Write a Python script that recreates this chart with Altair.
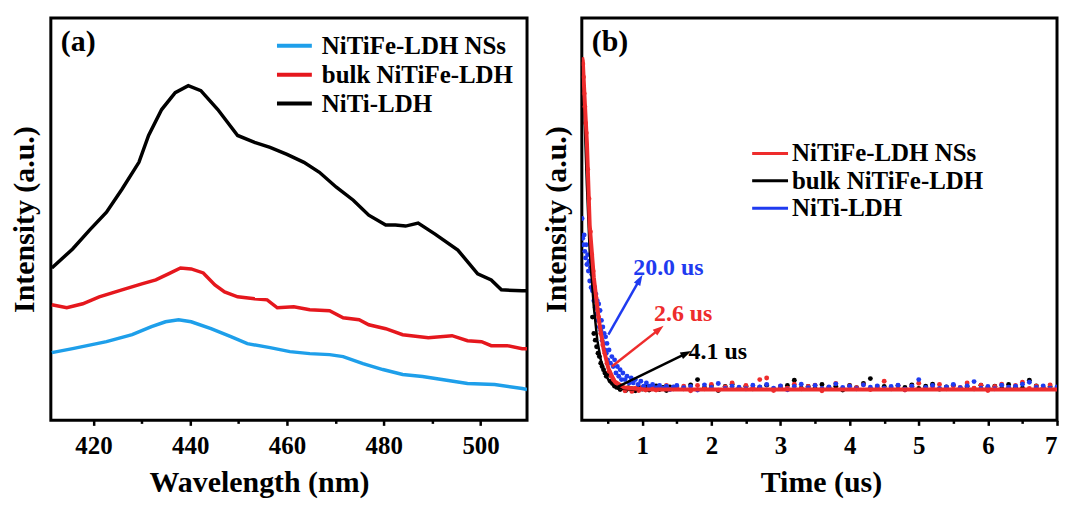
import math
import altair as alt
import pandas as pd

FONT = "Liberation Serif"
SERIES = ["NiTiFe-LDH NSs", "bulk NiTiFe-LDH", "NiTi-LDH"]

# ---------------- Panel (a): PL spectra ----------------
wl_nss = [411.4, 415.7, 422.7, 428.0, 432.0, 434.9, 437.6, 440.2, 444.3, 448.4, 451.8, 456.5, 460.6,
          464.7, 468.8, 471.6, 475.7, 479.8, 483.9, 488.0, 492.0, 497.3, 502.9, 508.6, 509.6]
pl_nss = [68, 72, 79, 86, 94, 99, 101, 99, 92, 84, 77, 73, 69, 67, 66, 64, 57, 51, 46, 44, 41, 37, 36, 32, 31]

wl_bulk = [411.4, 414.5, 417.8, 421.2, 425.9, 430.0, 432.9, 435.5, 438.0, 440.2, 442.7, 445.1, 447.1,
           449.8, 453.3, 455.9, 458.0, 461.4, 464.7, 468.8, 471.6, 474.9, 476.9, 480.4, 483.9, 489.2,
           494.1, 497.3, 500.2, 502.2, 505.5, 508.6, 509.6]
pl_bulk = [116, 113, 117, 124, 131, 137, 141, 147, 153, 152, 148, 136, 129, 124, 122, 121, 113, 114,
           111, 110, 103, 101, 96, 92, 86, 83, 85, 80, 79, 75, 75, 72, 72]

wl_niti = [411.4, 415.7, 419.2, 422.7, 425.9, 429.4, 431.4, 434.1, 436.9, 439.6, 442.2, 445.7, 449.8,
           453.3, 456.5, 460.0, 463.5, 466.7, 470.2, 473.7, 476.9, 480.4, 482.4, 484.5, 487.1, 490.6,
           495.3, 499.4, 502.2, 504.3, 508.6, 509.6]
pl_niti = [153, 172, 191, 209, 232, 259, 286, 312, 329, 336, 331, 312, 286, 279, 274, 267, 259, 249,
           234, 221, 206, 196, 196, 195, 198, 187, 171, 147, 141, 131, 130, 130]

wl_ticks = [420, 430, 440, 450, 460, 470, 480, 490, 500]

# ---------------- Panel (b): TRPL decay ----------------
t_fit_red = [0.13, 0.14, 0.17, 0.20, 0.24, 0.30, 0.37, 0.44, 0.51, 0.60, 0.74, 1.03, 7.0]
i_fit_red = [1.01, 1.00, 0.87, 0.75, 0.50, 0.34, 0.215, 0.124, 0.064, 0.024, 0.006, 0.0, 0.0]
t_fit_blk = [0.14, 0.17, 0.20, 0.24, 0.30, 0.35, 0.40, 0.45, 0.52, 0.60, 0.70, 0.85, 7.0]
i_fit_blk = [0.98, 0.80, 0.62, 0.42, 0.25, 0.15, 0.09, 0.055, 0.025, 0.01, 0.003, 0.0, 0.0]

t_pts_red = [0.14, 0.15, 0.16, 0.17, 0.18, 0.19, 0.21, 0.23, 0.25, 0.27, 0.29, 0.31, 0.33, 0.35, 0.37,
             0.40, 0.43, 0.46, 0.49, 0.52, 0.55, 0.58, 0.62, 0.66, 0.70, 0.75, 0.80, 0.85, 0.90, 0.95,
             1.00, 1.05, 1.10, 1.15, 1.20, 1.25, 1.30, 1.35, 1.40, 1.45]
i_pts_red = [0.99, 0.95, 0.90, 0.86, 0.81, 0.78, 0.67, 0.58, 0.48, 0.41, 0.36, 0.31, 0.28, 0.245, 0.22,
             0.17, 0.135, 0.11, 0.08, 0.055, 0.04, 0.03, 0.02, 0.012, 0.006, -0.004, 0.002, -0.006,
             0.004, -0.003, 0.006, -0.002, 0.005, 0.010, -0.002, 0.008, 0.003, 0.012, 0.001, 0.007]

t_pts_blk = [0.28, 0.30, 0.32, 0.34, 0.36, 0.38, 0.40, 0.42, 0.44, 0.46, 0.48, 0.51, 0.54, 0.57, 0.60,
             0.64, 0.68, 0.72, 0.76, 0.80, 0.85, 0.90, 0.95, 1.00, 1.05, 1.10, 1.15, 1.20, 1.25, 1.30,
             1.35, 1.40, 1.45]
i_pts_blk = [0.22, 0.17, 0.15, 0.13, 0.11, 0.10, 0.08, 0.07, 0.06, 0.05, 0.04, 0.045, 0.025, 0.018, 0.01,
             0.006, 0.0, 0.004, -0.003, 0.005, 0.002, -0.004, 0.006, 0.001, 0.009, -0.002, 0.004, 0.011,
             0.000, 0.006, -0.003, 0.008, 0.002]

t_pts_blu = [0.13, 0.14, 0.15, 0.16, 0.17, 0.18, 0.19, 0.20, 0.21, 0.22, 0.23, 0.24, 0.25, 0.26, 0.27,
             0.28, 0.29, 0.30, 0.31, 0.32, 0.33, 0.34, 0.35, 0.36, 0.37, 0.38, 0.39, 0.40, 0.41, 0.42,
             0.43, 0.44, 0.45, 0.46, 0.47, 0.48, 0.49, 0.50, 0.52, 0.54, 0.56, 0.58, 0.60, 0.62, 0.64,
             0.66, 0.68, 0.70, 0.72, 0.75, 0.78, 0.81, 0.84, 0.87, 0.90, 0.94, 0.98, 1.02, 1.06, 1.10,
             1.15, 1.20, 1.25, 1.30, 1.35, 1.40, 1.45]
i_pts_blu = [0.52, 0.46, 0.44, 0.47, 0.42, 0.40, 0.44, 0.38, 0.41, 0.36, 0.39, 0.33, 0.37, 0.31, 0.35,
             0.30, 0.33, 0.27, 0.31, 0.25, 0.29, 0.23, 0.27, 0.21, 0.26, 0.19, 0.24, 0.18, 0.21, 0.15,
             0.19, 0.14, 0.17, 0.12, 0.16, 0.11, 0.14, 0.09, 0.12, 0.08, 0.10, 0.07, 0.09, 0.05, 0.07,
             0.04, 0.06, 0.03, 0.05, 0.03, 0.04, 0.02, 0.035, 0.02, 0.03, 0.015, 0.025, 0.01, 0.02, 0.01,
             0.015, 0.005, 0.012, 0.003, 0.01, 0.0, 0.008]

t_base = [1.5, 1.6, 1.7, 1.8, 1.9, 2.0, 2.1, 2.2, 2.3, 2.4, 2.5, 2.6, 2.7, 2.8, 2.9, 3.0, 3.1, 3.2, 3.3,
          3.4, 3.5, 3.6, 3.7, 3.8, 3.9, 4.0, 4.1, 4.2, 4.3, 4.4, 4.5, 4.6, 4.7, 4.8, 4.9, 5.0, 5.1, 5.2,
          5.3, 5.4, 5.5, 5.6, 5.7, 5.8, 5.9, 6.0, 6.1, 6.2, 6.3, 6.4, 6.5, 6.6, 6.7, 6.8, 6.9, 7.0]
i_base_red = [0.004, 0.010, -0.004, 0.012, 0.002, 0.015, -0.002, 0.008, 0.020, 0.003,
              0.012, 0.006, 0.030, 0.035, -0.003, 0.010, 0.004, 0.016, 0.002, 0.009,
              0.013, -0.004, 0.006, 0.018, 0.003, 0.011, 0.005, 0.014, 0.000, 0.009,
              0.025, 0.004, 0.012, -0.002, 0.010, 0.019, 0.003, 0.008, 0.015, 0.002,
              0.011, 0.006, 0.020, 0.004, 0.013, -0.003, 0.009, 0.016, 0.005, 0.012,
              0.022, 0.003, 0.010, 0.006, 0.014, 0.004]
i_base_blk = [0.008, 0.002, 0.014, 0.030, 0.005, 0.011, -0.003, 0.009, 0.016, 0.004,
              0.010, 0.002, 0.007, 0.013, 0.001, 0.008, 0.012, 0.028, 0.004, 0.009,
              0.003, 0.015, 0.006, 0.010, -0.002, 0.012, 0.005, 0.018, 0.033, 0.004,
              0.009, 0.002, 0.011, 0.006, 0.014, 0.003, 0.010, 0.016, 0.001, 0.008,
              0.012, 0.004, 0.009, 0.002, 0.013, 0.006, 0.010, 0.003, 0.015, 0.007,
              0.004, 0.028, 0.011, 0.005, 0.009, 0.002]
i_base_blu = [0.012, 0.005, 0.009, -0.002, 0.014, 0.006, 0.018, 0.003, 0.010, 0.007,
              0.002, 0.013, 0.008, 0.015, 0.004, 0.011, -0.001, 0.009, 0.016, 0.005,
              0.012, 0.003, 0.008, 0.017, 0.006, 0.010, 0.002, 0.014, 0.007, 0.011,
              0.004, 0.009, 0.013, 0.001, 0.010, 0.030, 0.006, 0.012, 0.003, 0.008,
              0.015, 0.005, 0.011, 0.024, 0.004, 0.009, 0.002, 0.013, 0.007, 0.010,
              0.016, 0.022, 0.006, 0.011, 0.004, 0.008]

t_ticks = [0.5, 1.0, 1.5, 2.0, 2.5, 3.0, 3.5, 4.0, 4.5, 5.0, 5.5, 6.0, 6.5, 7.0]

# lifetime annotations (series, label, arrow tail, arrow head, label anchor)
ann_series = ["NiTi-LDH", "NiTiFe-LDH NSs", "bulk NiTiFe-LDH"]
ann_text = ["20.0 us", "2.6 us", "4.1 us"]
arrow_t0 = [0.51, 0.56, 0.60]
arrow_i0 = [0.167, 0.070, 0.003]
arrow_t1 = [0.96, 1.24, 1.63]
arrow_i1 = [0.333, 0.182, 0.109]
text_t = [0.87, 1.17, 1.67]
text_i = [0.37, 0.23, 0.115]

# ---------------- layout / style ----------------
W_A, W_B, H = 478, 477, 404
XA_DOM = [411.2, 509.6]
YA_DOM = [0, 404]
XB_DOM = [0.126, 7.0]
YB_DOM = [-0.094, 1.130]

COL_A = alt.Scale(domain=SERIES, range=["#1E9FEA", "#E5171D", "#000000"])
COL_B = alt.Scale(domain=SERIES, range=["#EE2C2C", "#000000", "#1F3BF0"])


def x_axis(values, major, title, title_x, flush):
    return alt.Axis(
        values=values,
        labelExpr=f"abs(datum.value - round(datum.value / {major}) * {major}) < 1e-6 ? format(datum.value, 'd') : ''",
        tickSize={"condition": {"test": f"abs(datum.value - round(datum.value / {major}) * {major}) > 1e-6",
                                "value": 3}, "value": 5},
        tickWidth=2.5, tickColor="black",
        labelFont=FONT, labelFontSize=25, labelFontWeight="bold", labelColor="black",
        labelPadding=8, labelOverlap=False, labelFlush=flush,
        domain=False, grid=False,
        title=title, titleFont=FONT, titleFontSize=30, titleFontWeight="bold", titleColor="black",
        titleX=title_x, titleY=71, titleAlign="center", titleBaseline="alphabetic", titleAnchor="start",
    )


def y_axis(title_x):
    return alt.Axis(
        labels=False, ticks=False, domain=False, grid=False,
        title="Intensity (a.u.)", titleFont=FONT, titleFontSize=30, titleFontWeight="bold",
        titleColor="black", titleX=title_x, titleY=H / 2, titleAngle=270,
        titleAlign="center", titleBaseline="middle",
    )


def legend(scale, x0, x1, xt, y0, dy, sw):
    df = pd.DataFrame({"series": SERIES, "ly": [y0 + i * dy for i in range(len(SERIES))]})
    rules = alt.Chart(df).mark_rule(strokeWidth=sw).encode(
        x=alt.value(x0), x2=alt.value(x1),
        y=alt.Y("ly:Q", scale=None, axis=None),
        color=alt.Color("series:N", scale=scale, legend=None),
    )
    texts = alt.Chart(df).mark_text(
        align="left", baseline="middle", font=FONT, fontSize=25, fontWeight="bold", color="black"
    ).encode(x=alt.value(xt), y=alt.Y("ly:Q", scale=None, axis=None), text="series:N")
    return [rules, texts]


def panel_label(txt):
    return alt.Chart(pd.DataFrame({"t": [txt]})).mark_text(
        align="left", baseline="middle", font=FONT, fontSize=30, fontWeight="bold", color="black"
    ).encode(x=alt.value(10), y=alt.value(24), text="t:N")


# ---- panel a
df_a = pd.concat([
    pd.DataFrame({"wl": wl_nss, "I": pl_nss, "series": SERIES[0]}),
    pd.DataFrame({"wl": wl_bulk, "I": pl_bulk, "series": SERIES[1]}),
    pd.DataFrame({"wl": wl_niti, "I": pl_niti, "series": SERIES[2]}),
])
lines_a = alt.Chart(df_a).mark_line(strokeWidth=3.5, clip=True).encode(
    x=alt.X("wl:Q", scale=alt.Scale(domain=XA_DOM, nice=False, zero=False),
            axis=x_axis(wl_ticks, 20, "Wavelength (nm)", 209, False)),
    y=alt.Y("I:Q", scale=alt.Scale(domain=YA_DOM, nice=False), axis=y_axis(-26)),
    color=alt.Color("series:N", scale=COL_A, legend=None),
)
panel_a = alt.layer(lines_a, *legend(COL_A, 227, 262, 272, 28, 29, 4), panel_label("(a)")).properties(
    width=W_A, height=H)

# ---- panel b
df_pts = pd.concat([
    pd.DataFrame({"t": t_pts_blk, "I": i_pts_blk, "series": SERIES[1]}),
    pd.DataFrame({"t": t_base, "I": i_base_blk, "series": SERIES[1]}),
    pd.DataFrame({"t": t_pts_red, "I": i_pts_red, "series": SERIES[0]}),
    pd.DataFrame({"t": t_base, "I": i_base_red, "series": SERIES[0]}),
    pd.DataFrame({"t": t_pts_blu, "I": i_pts_blu, "series": SERIES[2]}),
    pd.DataFrame({"t": t_base, "I": i_base_blu, "series": SERIES[2]}),
])
df_fit = pd.concat([
    pd.DataFrame({"t": t_fit_blk, "I": i_fit_blk, "series": SERIES[1], "o": 0}),
    pd.DataFrame({"t": t_fit_red, "I": i_fit_red, "series": SERIES[0], "o": 1}),
])
XB_SCALE = alt.Scale(domain=XB_DOM, nice=False, zero=False)
YB_SCALE = alt.Scale(domain=YB_DOM, nice=False, zero=False)
XB_AXIS = x_axis(t_ticks, 1, "Time (us)", 240, True)
YB_AXIS = y_axis(-25)


def xb(field):
    return alt.X(field, type="quantitative", scale=XB_SCALE, axis=XB_AXIS)


def yb(field):
    return alt.Y(field, type="quantitative", scale=YB_SCALE, axis=YB_AXIS)


cb = alt.Color("series:N", scale=COL_B, legend=None)

pts_b = alt.Chart(df_pts).mark_circle(size=24, opacity=1, clip=True).encode(
    x=xb("t"), y=yb("I"), color=cb)
fit_blk = alt.Chart(df_fit[df_fit.o == 0]).mark_line(strokeWidth=2.5, clip=True).encode(
    x=xb("t"), y=yb("I"), color=cb)
fit_red = alt.Chart(df_fit[df_fit.o == 1]).mark_line(strokeWidth=4, clip=True).encode(
    x=xb("t"), y=yb("I"), color=cb)

# annotation arrows
px_x = W_B / (XB_DOM[1] - XB_DOM[0])
px_y = H / (YB_DOM[1] - YB_DOM[0])
angles = [math.degrees(math.atan2((a1 - a0) * px_x, (b1 - b0) * px_y)) % 360
          for a0, b0, a1, b1 in zip(arrow_t0, arrow_i0, arrow_t1, arrow_i1)]
df_ann = pd.DataFrame({
    "series": ann_series, "label": ann_text,
    "t0": arrow_t0, "i0": arrow_i0, "t1": arrow_t1, "i1": arrow_i1,
    "tt": text_t, "ti": text_i, "ang": angles,
})
arrows = alt.Chart(df_ann).mark_rule(strokeWidth=2.5).encode(
    x=xb("t0"), x2="t1:Q", y=yb("i0"), y2="i1:Q", color=cb,
)
heads = alt.Chart(df_ann).mark_point(
    shape="M0,-1L0.6,0.8L-0.6,0.8Z", filled=True, size=150, opacity=1
).encode(
    x=xb("t1"), y=yb("i1"), color=cb, angle=alt.Angle("ang:Q", scale=None),
)
ann_txt = alt.Chart(df_ann).mark_text(
    align="left", baseline="middle", font=FONT, fontSize=24, fontWeight="bold"
).encode(x=xb("tt"), y=yb("ti"), text="label:N", color=cb)

panel_b = alt.layer(
    pts_b, fit_blk, fit_red, arrows, heads, ann_txt,
    *legend(COL_B, 171, 207, 211, 136, 27.5, 3), panel_label("(b)")
).properties(width=W_B, height=H)

chart = alt.hconcat(panel_a, panel_b, spacing=11).resolve_scale(
    color="independent", x="independent", y="independent"
).properties(
    padding={"left": 0, "top": 7, "right": 0, "bottom": 0}
).configure_view(stroke="black", strokeWidth=3)

chart.save("out.html", embed_options={"renderer": "svg", "actions": False})
